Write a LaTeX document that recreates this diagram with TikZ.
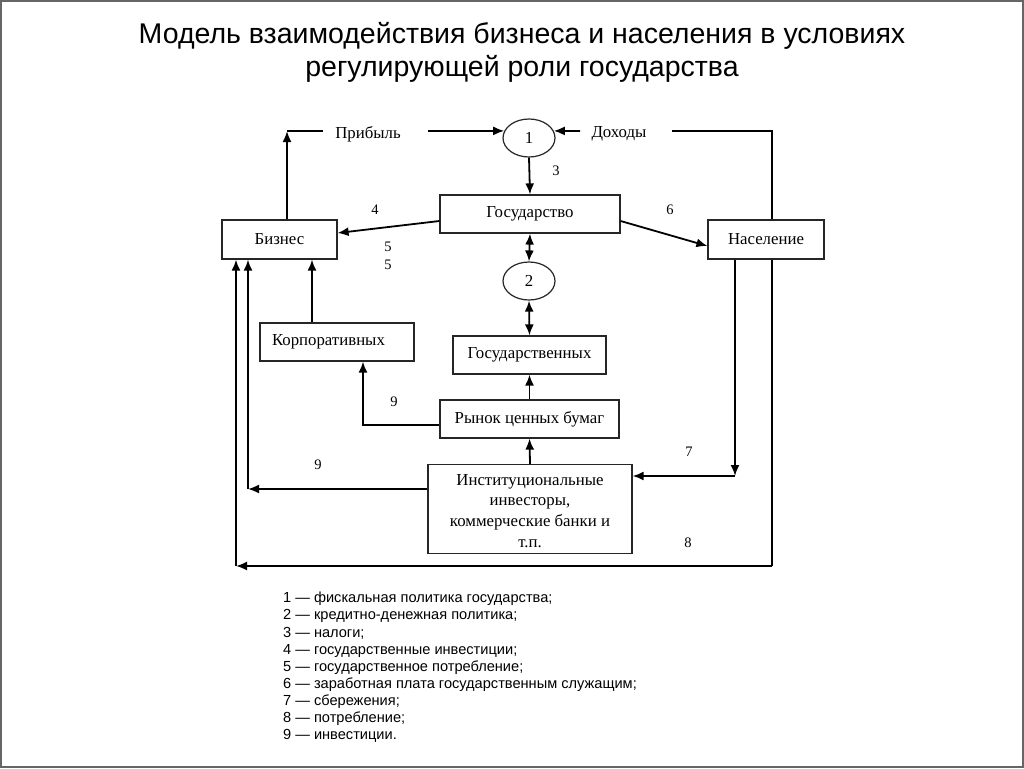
\documentclass[tikz,border=0pt]{standalone}
\usepackage{fontspec}
\setmainfont{Liberation Serif}
\newfontfamily\arialf{Liberation Sans}
\usetikzlibrary{shapes.geometric,arrows.meta,calc}
\tikzset{
  box/.style={draw=black!85, line width=1.2pt, rectangle, inner sep=0pt, font=\fontsize{16.8}{20.7}\selectfont},
  oval/.style={draw=black!85, line width=1.2pt, ellipse, minimum width=52pt, minimum height=38pt, inner sep=0pt, font=\fontsize{16.8}{18}\selectfont},
  ln/.style={draw=black, line width=1.8pt},
  arr/.style={ln, -{Latex[length=11pt,width=9pt]}},
  darr/.style={ln, {Latex[length=11pt,width=9pt]}-{Latex[length=11pt,width=9pt]}},
  lbl/.style={inner sep=0pt, font=\fontsize{14.5}{16}\selectfont},
  txt/.style={inner sep=0pt, font=\fontsize{16.8}{18}\selectfont}
}
\begin{document}
\begin{tikzpicture}[x=1pt,y=-1pt]
\useasboundingbox (0,0) rectangle (1024,768);
\fill[white] (0,0) rectangle (1024,768);
\draw[black!60, line width=2pt] (1,1) rectangle (1023,767);

% title
\node[align=center, inner sep=0pt, font=\arialf\fontsize{28.5}{33}\selectfont] (title) at (522,52)
  {Модель взаимодействия бизнеса и населения в условиях\\регулирующей роли государства};

% nodes
\node[oval] (e1) at (529,138) {1};
\node[oval] (e2) at (529,281) {2};
\node[box, minimum width=180pt, minimum height=38pt] (gos) at (530,214) {Государство};
\node[box, minimum width=115pt, minimum height=39pt] (biz) at (279.5,239.5) {Бизнес};
\node[box, minimum width=116pt, minimum height=39pt] (nas) at (766,239.5) {Население};
\node[box, minimum width=153pt, minimum height=38pt] (gosb) at (529.5,355) {Государственных};
\node[box, text width=130pt, inner xsep=12pt, align=left, minimum height=38pt] (korp) at (337,342) {Корпоративных};
\node[box, minimum width=179pt, minimum height=38pt] (rynok) at (529.5,419) {Рынок ценных бумаг};
\node[box, minimum width=204pt, minimum height=89pt] (inst) at (530,509)
  {\raisebox{-7.5pt}[0pt][0pt]{\begin{tabular}{@{}c@{}}Институциональные\\инвесторы,\\коммерческие банки и\\т.п.\end{tabular}}};

\node[txt] (prib) at (368,134) {Прибыль};
\node[txt] (doh) at (619,134) {Доходы};

% coordinates
\coordinate (c1) at (287,131);
\coordinate (pL) at (323,131);
\coordinate (pR) at (428,131);
\coordinate (qL) at (580,131);
\coordinate (qR) at (672,131);
\coordinate (cr) at (772,131);
\coordinate (c9) at (248,489);
\coordinate (c7) at (735,476);
\coordinate (c8) at (772,566);
\coordinate (cb) at (236,566);

% connectors
\draw[arr] (c1 |- biz.north) -- (c1);
\draw[ln] (c1) -- (pL);
\draw[arr] (pR) -- (e1.164);
\draw[arr] (qL) -- (e1.16);
\draw[ln] (qR) -- (cr) -- (cr |- nas.north);
\draw[arr] (e1.south) -- (gos.north);
\draw[arr] ([yshift=-7pt]gos.west) -- ([yshift=6.5pt]biz.east);
\draw[arr] ([yshift=-7pt]gos.east) -- ([yshift=-6.5pt]nas.west);
\draw[darr] (gos.south) -- (e2.north);
\draw[darr] (e2.south) -- (gosb.north);
\draw[arr] (rynok.north) -- (gosb.south);
\draw[arr] ([yshift=-6pt]rynok.west) -| ([xshift=26pt]korp.south);
\draw[arr] ([xshift=-25pt]korp.north) -- ([xshift=-25pt]korp.north |- biz.south);
\draw[arr] (inst.north) -- (rynok.south);
\draw[arr] (inst.west |- c9) -- (c9);
\draw[arr] (c9) -- (c9 |- biz.south);
\draw[arr] (c7 |- nas.south) -- (c7);
\draw[arr] (c7) -- (inst.east |- c7);
\draw[ln] (c8 |- nas.south) -- (c8);
\draw[arr] (c8) -- (cb);
\draw[arr] (cb) -- (cb |- biz.south);

% labels
\node[lbl] (l3) at (556,171) {3};
\node[lbl] (l4) at (375,210) {4};
\node[lbl] (l5a) at (388,247) {5};
\node[lbl] (l5b) at (388,265) {5};
\node[lbl] (l6) at (670,210) {6};
\node[lbl] (l9a) at (394,402) {9};
\node[lbl] (l9b) at (318,465) {9};
\node[lbl] (l7) at (689,452) {7};
\node[lbl] (l8) at (688,543) {8};

% legend
\node[anchor=north west, align=left, inner sep=0pt, font=\arialf\fontsize{14.6}{17.15}\selectfont] (legend) at (283,592)
{1 — фискальная политика государства;\\
2 — кредитно-денежная политика;\\
3 — налоги;\\
4 — государственные инвестиции;\\
5 — государственное потребление;\\
6 — заработная плата государственным служащим;\\
7 — сбережения;\\
8 — потребление;\\
9 — инвестиции.};
\end{tikzpicture}
\end{document}
